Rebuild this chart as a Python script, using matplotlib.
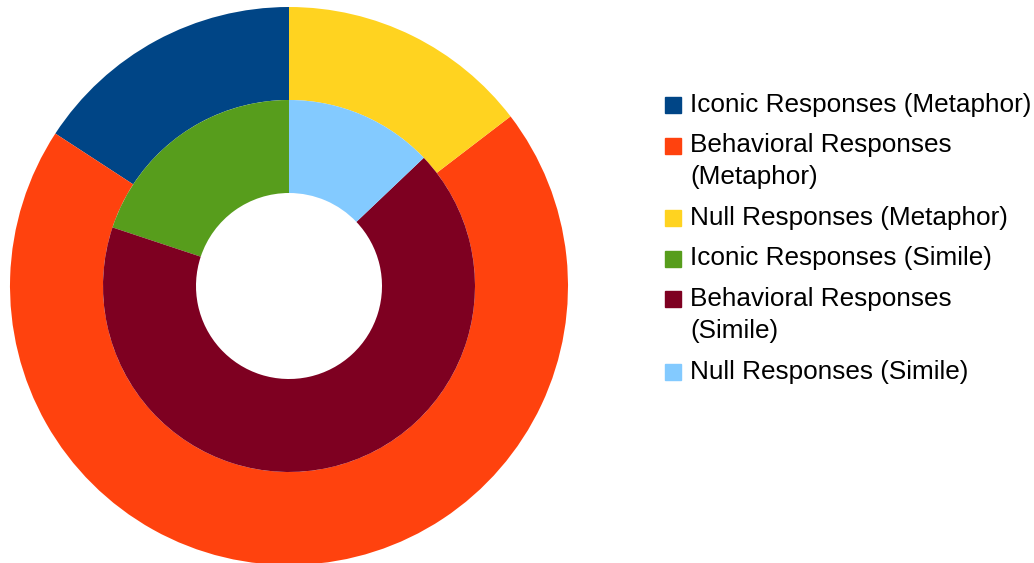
import matplotlib.pyplot as plt
from matplotlib.patches import Rectangle

# share of responses (percent)
categories = ['Iconic Responses', 'Behavioral Responses', 'Null Responses']
metaphor = [15.8, 69.6, 14.6]
simile = [19.9, 67.2, 12.9]

metaphor_colors = ['#004586', '#ff420e', '#ffd320']
simile_colors = ['#579d1c', '#7e0021', '#83caff']

legend_labels = ['Iconic Responses (Metaphor)', 'Behavioral Responses\n(Metaphor)',
                 'Null Responses (Metaphor)', 'Iconic Responses (Simile)',
                 'Behavioral Responses\n(Simile)', 'Null Responses (Simile)']

plt.rcParams['font.family'] = 'Liberation Sans'

W, H = 1034, 563
fig = plt.figure(figsize=(W / 100, H / 100), dpi=100)
cx, cy, r = 289, H - 286, 279
ax = fig.add_axes([(cx - r) / W, (cy - r) / H, 2 * r / W, 2 * r / H])

# outer ring = metaphor, inner ring = simile, counterclockwise from the top
ax.pie(metaphor, colors=metaphor_colors, radius=1.0, startangle=90, counterclock=True,
       wedgeprops=dict(width=1/3, linewidth=0))
ax.pie(simile, colors=simile_colors, radius=2/3, startangle=90, counterclock=True,
       wedgeprops=dict(width=1/3, linewidth=0))
ax.set_xlim(-1, 1)
ax.set_ylim(-1, 1)
ax.set_aspect('equal')

# legend drawn by hand so the square sits on the first line of a wrapped label
y = 105
for lab, col in zip(legend_labels, metaphor_colors + simile_colors):
    fig.add_artist(Rectangle((665 / W, 1 - (y + 8) / H), 16 / W, 16 / H,
                             color=col, transform=fig.transFigure))
    for k, line in enumerate(lab.split('\n')):
        if k > 0:
            y += 32
        fig.text(690 / W, 1 - y / H, line, fontsize=18.8, va='center', ha='left')
    y += 40.5

fig.savefig('out.png', dpi=100)
